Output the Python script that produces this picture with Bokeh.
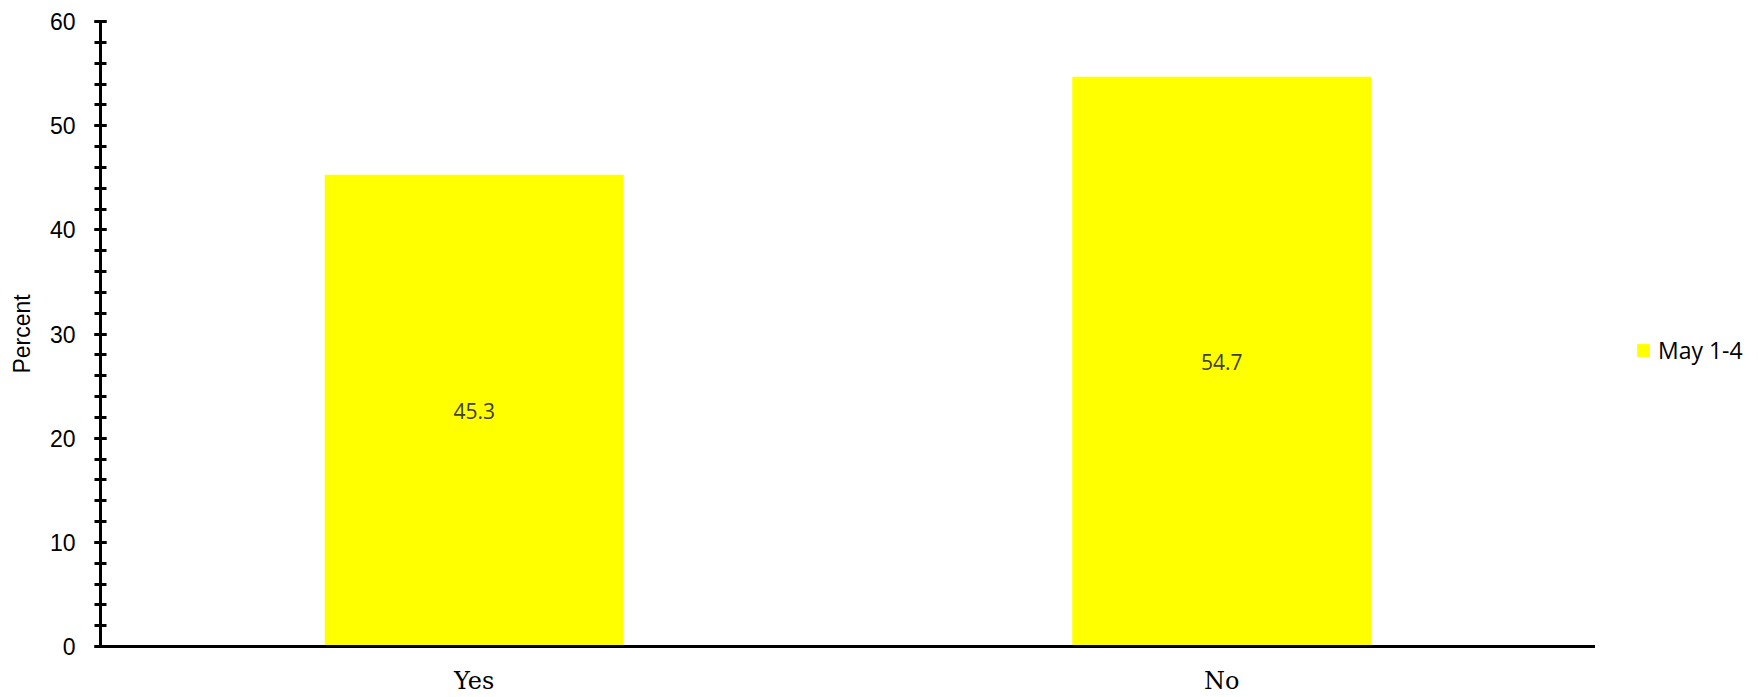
from bokeh.plotting import figure
from bokeh.layouts import row
from bokeh.models import ColumnDataSource, FactorRange, Range1d, SingleIntervalTicker, Legend, LegendItem
from bokeh.core.properties import value
from bokeh.embed import file_html
from bokeh.resources import INLINE

categories = ["Yes", "No"]
values = [45.3, 54.7]
series_name = "May 1-4"
labels = ["45.3", "54.7"]
bar_color = "#FFFF00"

src = ColumnDataSource(dict(
    cat=categories,
    val=values,
    mid=[v / 2 for v in values],
    lab=labels,
))

p = figure(width=1595, height=697, output_backend="svg", toolbar_location=None,
           x_range=FactorRange(*categories), y_range=Range1d(0, 60),
           min_border_left=100, min_border_right=0, min_border_top=21, min_border_bottom=51)
p.outline_line_color = None
p.xgrid.visible = False
p.ygrid.visible = False

bars = p.vbar(x="cat", top="val", width=0.4, source=src, fill_color=bar_color, line_color=None)
p.text(x="cat", y="mid", text="lab", source=src, text_align="center", text_baseline="middle",
       text_font=value("Open Sans"), text_font_size="21px", text_color="#404040")

# y axis
ya = p.yaxis[0]
ya.ticker = SingleIntervalTicker(interval=10, num_minor_ticks=5)
ya.axis_line_width = 3
ya.axis_line_color = "black"
ya.major_tick_line_width = 3
ya.minor_tick_line_width = 3
ya.major_tick_in = 6
ya.major_tick_out = 6
ya.minor_tick_in = 6
ya.minor_tick_out = 6
ya.major_label_text_font = "Liberation Sans"
ya.major_label_text_font_size = "23px"
ya.major_label_text_color = "black"
ya.major_label_standoff = 19
ya.axis_label = "Percent"
ya.axis_label_text_font = "Liberation Sans"
ya.axis_label_text_font_style = "normal"
ya.axis_label_text_font_size = "23px"
ya.axis_label_text_color = "black"
ya.axis_label_standoff = 12

# x axis
xa = p.xaxis[0]
xa.axis_line_width = 3
xa.axis_line_color = "black"
xa.major_tick_line_color = None
xa.minor_tick_line_color = None
xa.major_label_text_font = "DejaVu Serif"
xa.major_label_text_font_size = "24px"
xa.major_label_text_color = "black"
xa.major_label_standoff = 14

# legend panel (separate narrow figure on the right)
lp = figure(width=163, height=697, output_backend="svg", toolbar_location=None,
            x_range=FactorRange(*categories), y_range=Range1d(0, 60),
            x_axis_location=None, y_axis_location=None,
            min_border=0)
lp.outline_line_color = None
lp.xgrid.visible = False
lp.ygrid.visible = False
# zero-height bars: only provide the legend swatch
swatch = lp.vbar(x="cat", top=0, bottom=0, width=0.4, source=src, fill_color=bar_color, line_color=None)

legend = Legend(items=[LegendItem(label=series_name, renderers=[swatch])],
                location=(40, 280), border_line_color=None, background_fill_alpha=0,
                padding=0, margin=0, glyph_width=16, glyph_height=16, label_standoff=7,
                label_text_font="Open Sans", label_text_font_size="23px", label_text_color="black",
                label_height=16)
lp.add_layout(legend, "center")

layout = row(p, lp, spacing=0)

open("out.html", "w").write(file_html(layout, INLINE))
